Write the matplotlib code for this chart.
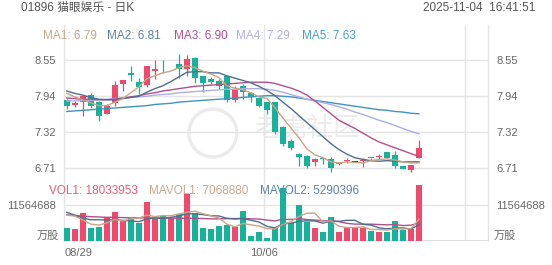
import matplotlib
matplotlib.use("Agg")
import matplotlib.pyplot as plt
from matplotlib import transforms
from matplotlib.patches import Ellipse

plt.rcParams["font.family"] = ["Liberation Sans", "Noto Sans CJK SC", "DejaVu Sans"]

# =========================================
# Data
# =========================================

DATES = [
    "08/29", "09/01", "09/02", "09/03", "09/04", "09/05",
    "09/08", "09/09", "09/10", "09/11", "09/12",
    "09/15", "09/16", "09/17", "09/18", "09/19",
    "09/22", "09/23", "09/24", "09/25", "09/26",
    "09/29", "09/30", "10/02", "10/03", "10/06",
    "10/08", "10/09", "10/10",
    "10/13", "10/14", "10/15", "10/16", "10/17",
    "10/20", "10/21", "10/22", "10/23", "10/24",
    "10/27", "10/28", "10/30", "10/31", "11/03", "11/04",
]
XTICK_DATES = ["08/29", "10/06"]

OPEN = [7.87, 7.78, 7.83, 7.96, 7.83, 7.62, 7.82, 8.14, 8.32, 8.18,
        8.12, 8.37, 8.45, 8.44, 8.49, 8.39, 8.58, 8.27, 8.23, 8.19,
        8.27, 7.87, 8.10, 7.99, 7.90, 7.83, 7.83, 7.41, 7.17, 6.95,
        6.91, 6.80, 6.88, 6.86, 6.78, 6.82, 6.81, 6.82, 6.88, 6.89,
        6.97, 6.92, 6.73, 6.67, 6.87]
HIGH = [7.88, 7.85, 7.96, 7.98, 7.85, 7.79, 8.19, 8.21, 8.45, 8.24,
        8.45, 8.55, 8.55, 8.44, 8.65, 8.63, 8.60, 8.28, 8.26, 8.22,
        8.28, 8.11, 8.14, 8.00, 7.90, 7.83, 7.83, 7.43, 7.20, 6.96,
        6.93, 6.87, 6.88, 6.89, 6.81, 6.87, 6.81, 6.87, 6.88, 6.94,
        6.98, 7.00, 6.74, 6.75, 7.19]
LOW = [7.72, 7.75, 7.59, 7.73, 7.50, 7.62, 7.76, 8.02, 8.19, 7.97,
       8.09, 8.23, 8.33, 8.44, 8.24, 8.28, 8.16, 8.00, 8.14, 8.06,
       7.84, 7.84, 7.89, 7.84, 7.74, 7.62, 7.28, 7.08, 7.02, 6.74,
       6.71, 6.74, 6.77, 6.64, 6.76, 6.79, 6.81, 6.72, 6.82, 6.86,
       6.87, 6.71, 6.68, 6.64, 6.87]
CLOSE = [7.76, 7.82, 7.93, 7.76, 7.59, 7.76, 8.13, 8.20, 8.29, 8.09,
         8.44, 8.39, 8.44, 8.44, 8.39, 8.57, 8.24, 8.16, 8.17, 8.10,
         7.86, 8.05, 8.01, 7.91, 7.77, 7.69, 7.32, 7.12, 7.05, 6.90,
         6.74, 6.86, 6.86, 6.71, 6.79, 6.83, 6.81, 6.83, 6.87, 6.90,
         6.88, 6.73, 6.69, 6.75, 7.04]

MA1 = [7.98, 7.92, 7.87, 7.82, 7.77, 7.77, 7.83, 7.89, 7.99, 8.09,
       8.23, 8.28, 8.33, 8.36, 8.42, 8.45, 8.42, 8.36, 8.31, 8.25,
       8.11, 8.07, 8.04, 7.99, 7.92, 7.89, 7.74, 7.56, 7.39, 7.22,
       7.03, 6.93, 6.88, 6.81, 6.79, 6.81, 6.80, 6.79, 6.83, 6.85,
       6.86, 6.84, 6.81, 6.79, 6.79]
MA2 = [8.02, 7.98, 7.95, 7.91, 7.88, 7.87, 7.87, 7.89, 7.91, 7.93,
       8.00, 8.06, 8.11, 8.18, 8.26, 8.34, 8.35, 8.35, 8.33, 8.33,
       8.28, 8.24, 8.20, 8.16, 8.10, 8.03, 7.94, 7.83, 7.72, 7.60,
       7.48, 7.36, 7.24, 7.12, 7.02, 6.94, 6.88, 6.85, 6.83, 6.82,
       6.83, 6.82, 6.81, 6.81, 6.81]
MA3 = [7.90, 7.89, 7.88, 7.88, 7.87, 7.87, 7.88, 7.90, 7.92, 7.94,
       7.97, 7.99, 8.02, 8.04, 8.06, 8.08, 8.10, 8.11, 8.12, 8.13,
       8.14, 8.15, 8.16, 8.17, 8.17, 8.17, 8.15, 8.11, 8.07, 8.02,
       7.95, 7.85, 7.74, 7.63, 7.52, 7.45, 7.38, 7.30, 7.22, 7.15,
       7.10, 7.05, 7.00, 6.95, 6.90]
MA4 = [7.85, 7.85, 7.86, 7.86, 7.87, 7.88, 7.89, 7.90, 7.91, 7.92,
       7.93, 7.95, 7.96, 7.97, 7.99, 8.00, 8.01, 8.02, 8.03, 8.04,
       8.05, 8.05, 8.06, 8.06, 8.06, 8.05, 8.03, 8.00, 7.96, 7.92,
       7.88, 7.85, 7.82, 7.79, 7.75, 7.71, 7.66, 7.62, 7.57, 7.52,
       7.48, 7.43, 7.38, 7.33, 7.29]
MA5 = [7.67, 7.68, 7.69, 7.70, 7.71, 7.72, 7.73, 7.74, 7.75, 7.76,
       7.77, 7.79, 7.80, 7.81, 7.83, 7.84, 7.85, 7.86, 7.87, 7.88,
       7.89, 7.90, 7.91, 7.92, 7.93, 7.94, 7.94, 7.93, 7.92, 7.90,
       7.88, 7.86, 7.84, 7.82, 7.80, 7.78, 7.76, 7.74, 7.72, 7.70,
       7.69, 7.67, 7.66, 7.64, 7.63]

VOLUME = [4350000, 3850000, 9000000, 4150000, 4600000, 7700000, 9450000, 6600000, 7600000, 5700000,
          12700000, 7100000, 8200000, 7400000, 8700000, 15300000, 9150000, 4150000, 3850000, 5000000,
          5200000, 4600000, 9750000, 1600000, 3050000, 1100000, 4150000, 17100000, 5900000, 11700000,
          6300000, 4150000, 2850000, 7700000, 3050000, 4150000, 4150000, 4150000, 3350000, 2850000,
          3050000, 6600000, 3550000, 3950000, 18033953]

MAVOL1 = [8.40, 8.10, 6.90, 5.50, 5.18, 5.85, 6.97, 6.50, 7.19, 7.41,
          8.41, 7.94, 8.25, 8.18, 8.77, 9.28, 9.69, 8.88, 8.21, 7.49,
          5.48, 4.57, 5.69, 5.25, 4.86, 4.03, 3.93, 5.41, 6.26, 8.00,
          9.04, 9.04, 6.19, 6.54, 4.81, 4.37, 4.37, 4.63, 3.76, 3.72,
          3.51, 4.00, 3.88, 4.00, 7.07]
MAVOL2 = [9.30, 8.40, 7.40, 6.90, 6.90, 6.80, 6.90, 6.70, 6.50, 6.29,
          7.13, 7.46, 7.38, 7.68, 8.09, 8.85, 8.82, 8.57, 8.20, 8.13,
          7.38, 7.13, 7.29, 6.74, 6.18, 4.76, 4.26, 5.56, 5.76, 6.43,
          6.54, 6.49, 5.80, 6.40, 6.40, 6.71, 6.71, 5.41, 5.15, 4.27,
          3.94, 4.19, 4.26, 3.88, 5.29]
MAVOL3 = [8.50, 8.30, 8.10, 7.90, 7.80, 7.70, 7.70, 7.60, 7.50, 7.50,
          7.50, 7.50, 7.50, 7.40, 7.40, 7.40, 7.40, 7.30, 7.20, 7.21,
          7.26, 7.30, 7.34, 7.21, 7.13, 6.80, 6.53, 7.06, 6.97, 7.28,
          6.95, 6.81, 6.54, 6.57, 6.28, 5.73, 5.48, 5.48, 5.46, 5.35,
          5.24, 5.34, 5.02, 5.14, 5.88]

PRICE_TICKS = [6.71, 7.32, 7.94, 8.55]
VOL_TICK = 11564688

MA_LABELS = ["MA1: 6.79", "MA2: 6.81", "MA3: 6.90", "MA4: 7.29", "MA5: 7.63"]
VOL_LABELS = ["VOL1: 18033953", "MAVOL1: 7068880", "MAVOL2: 5290396"]

# =========================================
# Style
# =========================================

W, H = 552, 265
RED = "#f0496c"
GREEN = "#16b29c"
FLAT = "#333333"
GRID = "#e4e4e4"
TEXT = "#666666"
WATERMARK = "#ebebeb"
MA_COLORS = ["#caa583", "#4e6f8e", "#b2508a", "#adadea", "#3f93c2"]
MA_TEXT_COLORS = ["#c9a88c", "#5b82a8", "#b5508f", "#b3b3ea", "#4a9fcc"]
MAVOL_COLORS = ["#caa583", "#4e6f8e", "#b2508a"]
VOL_TEXT_COLORS = ["#ee5a76", "#c9a88c", "#5b82a8"]


def px_rect(left, top, right, bottom):
    return [left / W, 1 - bottom / H, (right - left) / W, (bottom - top) / H]


def style_axes(ax):
    for side in ["top", "bottom"]:
        ax.spines[side].set_visible(False)
    for side in ["left", "right"]:
        ax.spines[side].set_color(GRID)
        ax.spines[side].set_linewidth(1.0)
    ax.tick_params(axis="both", length=0, labelsize=8, labelcolor=TEXT)
    ax.set_xticks([])
    ax.set_xlim(-0.34, 52.62)


def main():
    fig = plt.figure(figsize=(W / 100, H / 100), dpi=100)
    fig.patch.set_facecolor("white")

    ax = fig.add_axes(px_rect(64, 25, 488, 182))
    vax = fig.add_axes(px_rect(64, 182, 488, 241))
    style_axes(ax)
    style_axes(vax)

    n = len(CLOSE)
    xs = list(range(n))
    grid_x = [DATES.index(d) - 0.3 for d in XTICK_DATES[1:]]
    grid_x.append(grid_x[0] + 25)

    # watermark (logo ring + text), placed in axes fractions
    ax.add_patch(Ellipse((0.351, 0.312), 48 / 424, 48 / 157,
                         transform=ax.transAxes, fill=False,
                         ec=WATERMARK, lw=2.4, zorder=0))
    ax.text(0.572, 0.345, "老虎社区", transform=ax.transAxes, fontsize=19,
            color=WATERMARK, ha="center", va="center", zorder=0,
            family=["Noto Sans CJK SC"])

    # grid
    for t in PRICE_TICKS:
        ax.axhline(t, color=GRID, lw=1.0, zorder=1)
    for gx in grid_x:
        ax.axvline(gx, color=GRID, lw=1.0, zorder=1)
        vax.axvline(gx, color=GRID, lw=1.0, zorder=1)
    vax.axhline(VOL_TICK, color=GRID, lw=1.0, zorder=1)
    vax.axhline(0, color="#d8d8d8", lw=1.2, zorder=1)

    # candles
    for i in xs:
        o, h, l, c = OPEN[i], HIGH[i], LOW[i], CLOSE[i]
        if c > o:
            col = RED
        elif c < o:
            col = GREEN
        else:
            col = FLAT
        ax.vlines(i, l, h, color=col, lw=0.9, zorder=3)
        body = max(abs(c - o), 0.014)
        ax.bar(i, body, bottom=min(o, c), width=0.74, color=col, lw=0, zorder=4)

    for vals, col in zip([MA5, MA4, MA3, MA2, MA1], MA_COLORS[::-1]):
        ax.plot(xs, vals, color=col, lw=1.0, zorder=5)

    ax.set_ylim(6.465, 9.148)
    ax.set_yticks(PRICE_TICKS)
    ax.set_yticklabels([f"{t:.2f}" for t in PRICE_TICKS])
    ax.yaxis.set_tick_params(labelleft=True, labelright=True, pad=6)

    # volume
    vcols = [RED if CLOSE[i] >= OPEN[i] else GREEN for i in xs]
    vax.bar(xs, VOLUME, width=0.74, color=vcols, lw=0, zorder=3)
    for vals, col in zip([MAVOL3, MAVOL2, MAVOL1], MAVOL_COLORS[::-1]):
        vax.plot(xs, [v * 1e6 for v in vals], color=col, lw=1.0, zorder=5)
    vax.set_ylim(0, 19.16e6)
    vax.set_yticks([VOL_TICK])
    vax.set_yticklabels([str(VOL_TICK)])
    vax.yaxis.set_tick_params(labelleft=True, labelright=True, pad=6)
    vax.text(-0.012, 5 / 59, "万股", transform=vax.transAxes, ha="right",
             va="center", fontsize=8, color=TEXT)
    vax.text(1.014, 5 / 59, "万股", transform=vax.transAxes, ha="left",
             va="center", fontsize=8, color=TEXT)

    # x labels
    bt = transforms.blended_transform_factory(vax.transData, vax.transAxes)
    vax.text(-0.2, -12 / 59, XTICK_DATES[0], transform=bt, ha="left",
             va="center", fontsize=8, color=TEXT)
    vax.text(grid_x[0], -12 / 59, XTICK_DATES[1], transform=bt, ha="center",
             va="center", fontsize=8, color=TEXT)

    # header texts
    fig.text(21 / W, 1 - 8 / H, "01896 猫眼娱乐 - 日K", fontsize=8.5,
             color="#555555", va="center")
    fig.text(535 / W, 1 - 8 / H, "2025-11-04  16:41:51", fontsize=8.5,
             color="#555555", va="center", ha="right")

    for lab, px, col in zip(MA_LABELS, [43, 107, 174, 236, 302], MA_TEXT_COLORS):
        fig.text(px / W, 1 - 36 / H, lab, fontsize=8.5, color=col, va="center")
    for lab, px, col in zip(VOL_LABELS, [49, 149, 260], VOL_TEXT_COLORS):
        fig.text(px / W, 1 - 191 / H, lab, fontsize=8.5, color=col, va="center")

    fig.savefig("out.png", dpi=100, facecolor="white")


if __name__ == "__main__":
    main()
